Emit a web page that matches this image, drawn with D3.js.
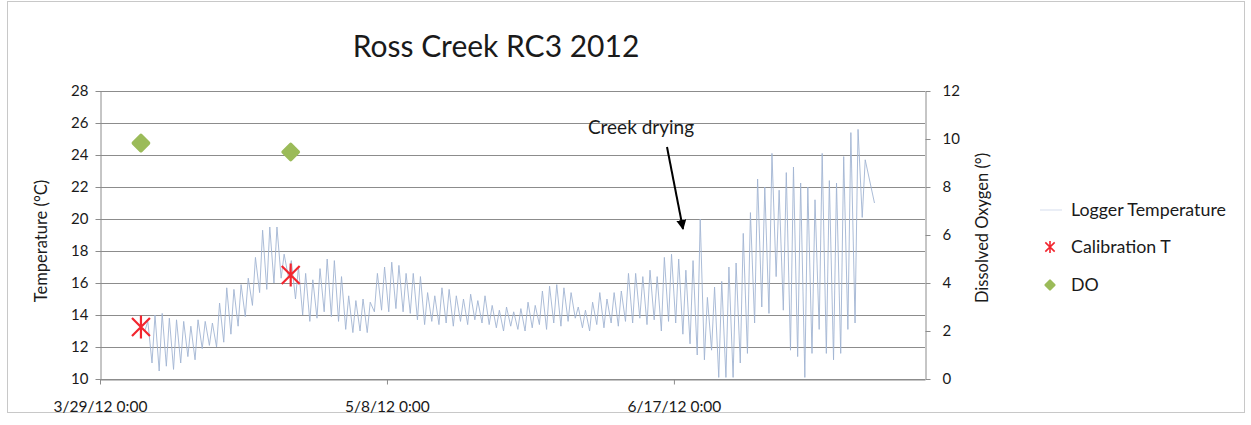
<!DOCTYPE html>
<html><head><meta charset="utf-8">
<script src="https://cdn.jsdelivr.net/npm/d3@7"></script>
<style>
body{margin:0;background:#fff}
text{font-family:Lato,"Open Sans",sans-serif;fill:#1a1a1a}
</style>
</head><body>
<svg id="c" width="1251" height="425"></svg>
<script>
// ---------- data ----------
const firstLoggerDay = "2012-04-04";
// daily low / high of the logger temperature (°C), one entry per day from firstLoggerDay
const tMin = [13.0,11.0,10.5,10.8,10.6,11.0,11.4,11.2,11.9,12.1,
              12.0,12.3,12.8,13.3,13.9,14.6,15.4,15.6,16.0,16.3,
              16.4,15.0,14.0,13.6,13.8,14.2,13.9,13.6,13.1,12.9,
              13.0,12.9,14.2,14.3,14.2,14.4,14.2,14.1,13.7,13.4,
              13.6,13.4,13.5,13.3,13.6,13.4,13.7,13.5,13.4,13.2,
              13.0,13.3,13.1,13.0,13.2,13.4,13.1,13.5,13.3,13.6,
              13.8,13.2,13.0,13.4,13.2,13.5,13.3,13.6,13.5,13.8,
              13.4,13.7,13.0,13.6,13.5,12.8,12.2,11.5,11.2,11.8,
              10.1,10.1,10.1,11.0,11.6,13.5,14.5,14.1,16.4,14.3,
              11.8,11.4,10.1,11.6,13.1,11.6,11.2,11.6,13.1,13.5,
              20.1];
const tMax = [13.6,14.0,14.1,13.8,13.7,13.6,13.3,13.7,13.6,13.5,
              14.75,15.7,15.6,15.9,16.3,17.6,19.3,19.5,19.5,17.8,
              17.4,17.0,16.6,16.2,16.9,17.5,17.4,16.4,15.2,14.9,
              15.0,14.8,16.6,17.0,17.3,17.1,16.6,16.6,16.4,15.4,
              15.2,15.7,15.6,15.2,15.0,15.3,14.9,15.2,14.6,14.3,
              14.5,14.2,14.4,14.8,14.6,15.5,15.8,15.9,15.7,15.4,
              14.5,14.3,14.8,15.4,15.0,15.4,15.5,16.6,16.6,16.4,
              16.8,16.4,17.6,17.8,17.5,16.8,17.4,20.0,15.1,15.75,
              16.1,17.0,17.25,19.1,20.4,22.5,22.0,24.1,21.8,22.9,
              23.25,22.25,22.0,21.2,24.1,22.4,22.25,23.9,25.4,25.6,
              23.7];
const loggerLastReading = {date:"2012-07-14T23:00", value:21.0};

const calDates  = ["2012-04-03T17:00","2012-04-24T14:00"];
const calValues = [13.25, 16.5];
const doDates   = ["2012-04-03T17:00","2012-04-24T14:00"];
const doValues  = [9.83, 9.46];

const tempTicks = [10,12,14,16,18,20,22,24,26,28];
const doTicks   = [0,2,4,6,8,10,12];
const xTickDates = ["2012-03-29T00:00","2012-05-08T00:00","2012-06-17T00:00"];
const xDomain = ["2012-03-29T00:00","2012-07-22T00:00"];

const legendItems = ["Logger Temperature","Calibration T","DO"];
const annotationText = "Creek drying";

// ---------- scales ----------
const P = {l:100, r:925, t:91, b:379};
const parse = s => new Date(s);
const x = d3.scaleTime().domain(xDomain.map(parse)).range([P.l,P.r]);
const yT = d3.scaleLinear().domain([10,28]).range([P.b,P.t]);
const yD = d3.scaleLinear().domain([0,12]).range([P.b,P.t]);

const svg = d3.select("#c");
const grid = "#8c8c8c";

// chart frame
svg.append("rect").attr("x",7.5).attr("y",1.5).attr("width",1237).attr("height",411)
  .attr("fill","none").attr("stroke","#c8c8c8");

// title
svg.append("text").attr("x",496).attr("y",57).attr("text-anchor","middle")
  .style("font-size","30px").text("Ross Creek RC3 2012");

// gridlines
svg.append("g").selectAll("line").data(tempTicks).join("line")
  .attr("x1",P.l).attr("x2",P.r)
  .attr("y1",d=>Math.round(yT(d))+0.5).attr("y2",d=>Math.round(yT(d))+0.5)
  .attr("stroke",grid).attr("stroke-width",1);

// left axis
const gL = svg.append("g").attr("transform",`translate(${P.l+0.5},0)`)
  .call(d3.axisLeft(yT).tickValues(tempTicks).tickSize(5).tickSizeOuter(0).tickPadding(7));
// right axis
const gR = svg.append("g").attr("transform",`translate(${P.r+0.5},0)`)
  .call(d3.axisRight(yD).tickValues(doTicks).tickSize(5).tickSizeOuter(0).tickPadding(12));
// bottom axis
const fmt = d3.timeFormat("%-m/%-d/%y %-H:%M");
const gB = svg.append("g").attr("transform",`translate(0,${P.b+0.5})`)
  .call(d3.axisBottom(x).tickValues(xTickDates.map(parse)).tickFormat(fmt).tickSize(5).tickSizeOuter(0).tickPadding(16));
[gL,gR,gB].forEach(g=>{
  g.select(".domain").attr("stroke",grid);
  g.selectAll(".tick line").attr("stroke",grid);
  g.selectAll("text").attr("fill","#1a1a1a").style("font-family","Lato,'Open Sans',sans-serif");
});
gL.selectAll("text").style("font-size","15px");
gR.selectAll("text").style("font-size","15px");
gB.selectAll("text").style("font-size","15.5px");

// axis titles
svg.append("text").attr("transform","translate(47,241) rotate(-90)").attr("text-anchor","middle")
  .style("font-size","16.5px").text("Temperature (°C)");
svg.append("text").attr("transform","translate(988,228) rotate(-90)").attr("text-anchor","middle")
  .style("font-size","16.5px").text("Dissolved Oxygen (°)");

// logger temperature line
const day0 = parse(firstLoggerDay + "T00:00");
const loggerPts = [];
tMin.forEach((lo,i)=>{
  const base = d3.timeDay.offset(day0,i);
  loggerPts.push({t:d3.timeHour.offset(base,6), v:lo});
  loggerPts.push({t:d3.timeHour.offset(base,16), v:tMax[i]});
});
loggerPts.push({t:parse(loggerLastReading.date), v:loggerLastReading.value});
const lineColor = "#a2b4d3";
svg.append("path").datum(loggerPts)
  .attr("d",d3.line().x(d=>x(d.t)).y(d=>yT(d.v)))
  .attr("fill","none").attr("stroke",lineColor).attr("stroke-width",0.9);

// marker shapes
const red = "#f2262f", green = "#9bbb59";
function star(g,cx,cy,r,w){
  const s = r*0.78;
  g.append("path").attr("d",`M${cx-s},${cy-s}L${cx+s},${cy+s}M${cx-s},${cy+s}L${cx+s},${cy-s}M${cx},${cy-r}L${cx},${cy+r}`)
   .attr("stroke",red).attr("stroke-width",w).attr("fill","none");
}
function diamond(g,cx,cy,r){
  g.append("path").attr("d",`M${cx},${cy-r}L${cx+r},${cy}L${cx},${cy+r}L${cx-r},${cy}Z`)
   .attr("fill",green).attr("stroke",green).attr("stroke-width",r*0.5).attr("stroke-linejoin","round");
}

// DO points
const gDO = svg.append("g");
doDates.forEach((d,i)=>diamond(gDO,x(parse(d)),yD(doValues[i]),7.5));
// calibration points
const gCal = svg.append("g");
calDates.forEach((d,i)=>star(gCal,x(parse(d)),yT(calValues[i]),11.5,2.2));

// annotation
svg.append("text").attr("x",641).attr("y",134).attr("text-anchor","middle")
  .style("font-size","19px").text(annotationText);
svg.append("defs").append("marker").attr("id","ah").attr("viewBox","0 0 10 10")
  .attr("refX",9).attr("refY",5).attr("markerWidth",5).attr("markerHeight",5).attr("orient","auto")
  .append("path").attr("d","M0,0L10,5L0,10Z").attr("fill","#000");
svg.append("line").attr("x1",667).attr("y1",147).attr("x2",683).attr("y2",229)
  .attr("stroke","#000").attr("stroke-width",2).attr("marker-end","url(#ah)");

// legend
const lg = svg.append("g");
const ly = [210,247,285];
lg.append("line").attr("x1",1040).attr("x2",1062).attr("y1",ly[0]).attr("y2",ly[0])
  .attr("stroke","#e3e9f3").attr("stroke-width",1.5);
star(lg,1050,ly[1],6,1.6);
diamond(lg,1050,ly[2],4.5);
legendItems.forEach((t,i)=>lg.append("text").attr("x",1071).attr("y",ly[i]).attr("dy","0.35em")
  .style("font-size","17.8px").text(t));
</script>
</body></html>
